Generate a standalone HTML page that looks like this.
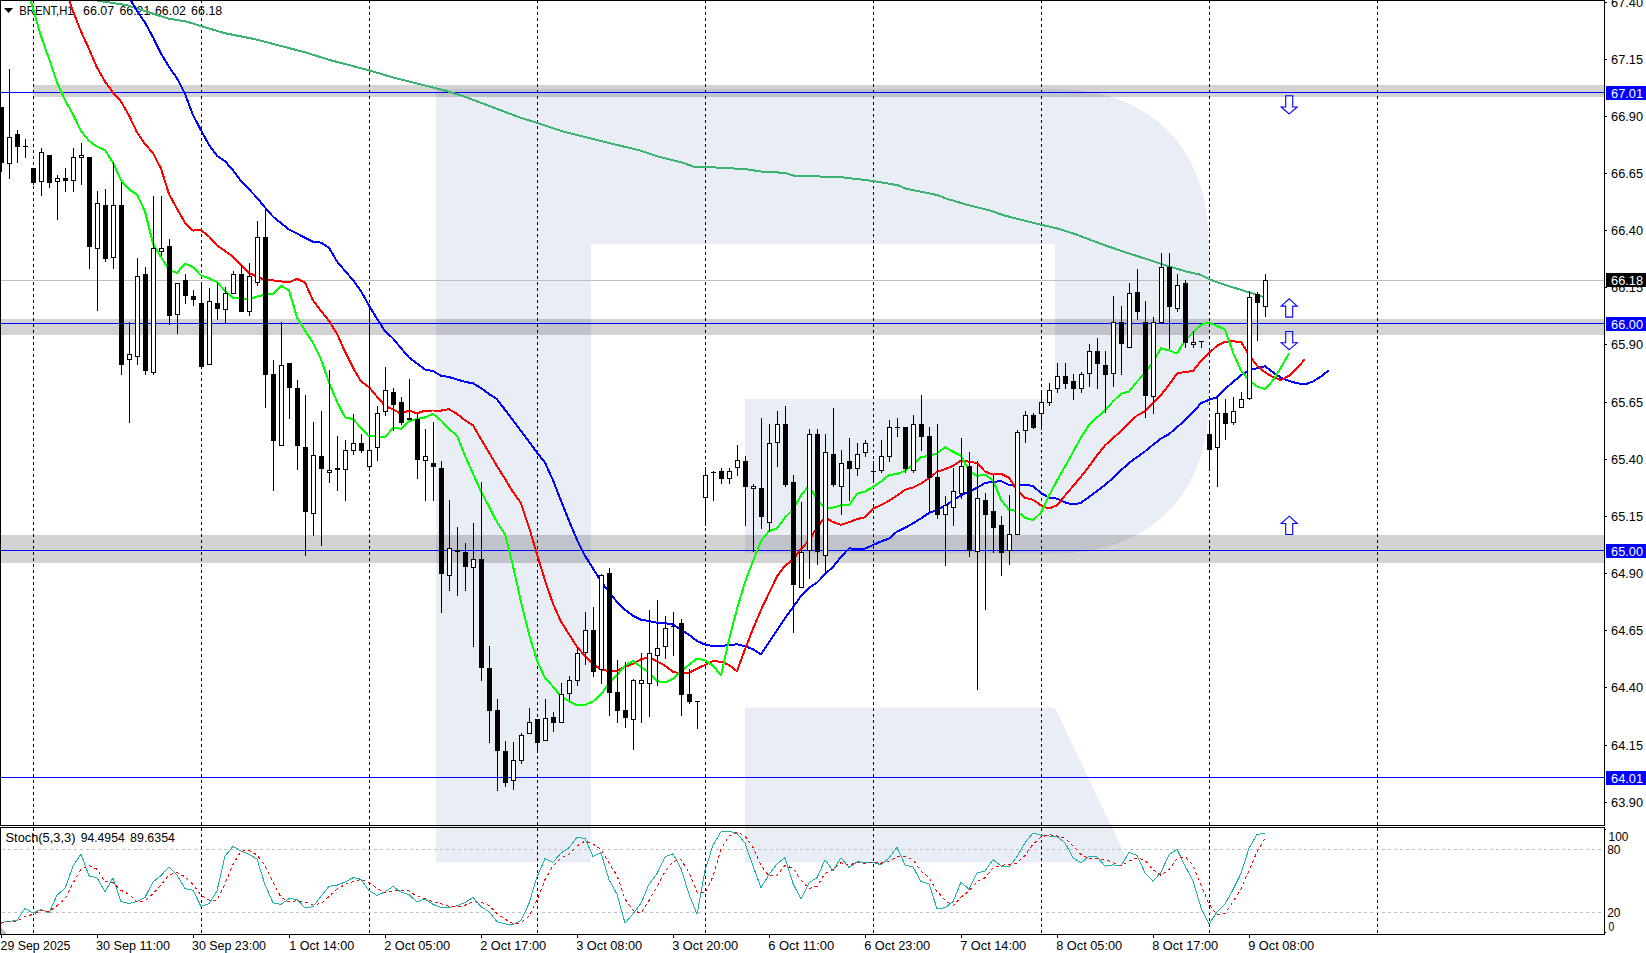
<!DOCTYPE html><html><head><meta charset="utf-8"><style>html,body{margin:0;padding:0;background:#fff;overflow:hidden}svg{display:block}text{font-family:"Liberation Sans",sans-serif}</style></head><body>
<svg width="1646" height="953" viewBox="0 0 1646 953">
<rect x="0" y="0" width="1646" height="953" fill="#fff"/>
<rect x="436" y="89" width="155" height="773.5" fill="#e9edf5"/>
<path d="M591,89 H1055 C1150.5,89 1209,147.9 1209,244 V399 C1209,494.8 1150.5,553.5 1055,553.5 H745 V399 H591 Z M591,244 H1055 V393 Q1055,399 1049,399 H591 Z" fill="#e9edf5" fill-rule="evenodd"/>
<path d="M745,707.5 H1055 L1128.5,862.5 H745 Z" fill="#e9edf5"/>
<path d="M33.5,0 V825 M33.5,828 V934 M201.5,0 V825 M201.5,828 V934 M369.5,0 V825 M369.5,828 V934 M537.5,0 V825 M537.5,828 V934 M705.5,0 V825 M705.5,828 V934 M873.5,0 V825 M873.5,828 V934 M1041.5,0 V825 M1041.5,828 V934 M1209.5,0 V825 M1209.5,828 V934 M1377.5,0 V825 M1377.5,828 V934" stroke="#000" stroke-width="1" stroke-dasharray="3 3" fill="none" shape-rendering="crispEdges"/>
<rect x="33" y="85" width="1571" height="12" fill="rgba(0,0,0,0.173)"/>
<rect x="1" y="319" width="1603" height="16" fill="rgba(0,0,0,0.173)"/>
<rect x="1" y="535" width="1603" height="28" fill="rgba(0,0,0,0.173)"/>
<path d="M2,849.5 H1604 M2,912.5 H1604" stroke="#c0c0c0" stroke-width="1" stroke-dasharray="3 3" fill="none" shape-rendering="crispEdges"/>
<rect x="1" y="280" width="1603" height="1" fill="#c0c0c0"/>
<rect x="1" y="92" width="1603" height="1" fill="#0000ff"/>
<rect x="1" y="323" width="1603" height="1" fill="#0000ff"/>
<rect x="1" y="550" width="1603" height="1" fill="#0000ff"/>
<rect x="1" y="777" width="1603" height="1" fill="#0000ff"/>
<path d="M4,8 H13 L8.5,13 Z" fill="#000"/>
<text x="19.30" y="14.9" font-size="12.5" fill="#000" textLength="54.31" lengthAdjust="spacingAndGlyphs">BRENT,H1</text>
<text x="83.10" y="14.9" font-size="12.5" fill="#000" textLength="31.03" lengthAdjust="spacingAndGlyphs">66.07</text>
<text x="119.50" y="14.9" font-size="12.5" fill="#000" textLength="30.73" lengthAdjust="spacingAndGlyphs">66.21</text>
<text x="155.00" y="14.9" font-size="12.5" fill="#000" textLength="30.83" lengthAdjust="spacingAndGlyphs">66.02</text>
<text x="191.10" y="14.9" font-size="12.5" fill="#000" textLength="31.13" lengthAdjust="spacingAndGlyphs">66.18</text>
<path d="M1.0,-15.0 L100.0,1.0 L126.9,5.2 L168.2,18.6 L186.8,21.7 L224.0,33.0 L255.0,39.2 L306.6,52.7 L329.3,59.9 L368.5,70.2 L393.3,77.5 L440.0,89.2 L462.0,95.7 L520.7,117.8 L537.5,123.0 L562.7,131.4 L596.0,139.8 L640.0,150.5 L657.5,156.4 L681.6,162.3 L693.6,166.7 L712.2,167.3 L745.0,169.1 L762.5,171.7 L784.4,172.8 L794.2,175.7 L841.2,177.2 L874.0,181.1 L898.0,185.3 L905.7,188.6 L937.5,195.1 L946.2,198.6 L968.0,205.0 L990.0,210.5 L1003.6,215.3 L1041.0,224.7 L1058.0,228.6 L1075.0,234.0 L1105.7,245.6 L1129.5,253.6 L1158.4,262.9 L1168.6,266.3 L1187.3,271.8 L1200.9,274.8 L1211.0,280.0 L1228.0,285.9 L1250.2,292.7 L1265.0,297.5" stroke="#3cb371" stroke-width="2" fill="none" stroke-linejoin="round" shape-rendering="crispEdges"/>
<path d="M65.0,-155.4 L73.0,-133.9 L81.0,-112.4 L89.0,-92.3 L97.0,-71.6 L105.0,-52.9 L113.0,-35.6 L121.0,-17.7 L129.0,-2.5 L137.0,10.7 L145.0,22.5 L153.0,37.2 L161.0,53.6 L169.0,66.9 L177.0,78.3 L185.0,93.7 L193.0,115.1 L201.0,130.2 L209.0,144.9 L217.0,155.7 L225.0,161.1 L233.0,170.4 L241.0,181.0 L249.0,189.3 L257.0,197.7 L265.0,207.5 L273.0,216.6 L281.0,223.2 L289.0,229.4 L297.0,233.5 L305.0,237.8 L313.0,241.7 L321.0,242.6 L329.0,247.7 L337.0,261.4 L345.0,270.8 L353.0,280.1 L361.0,291.2 L369.0,305.4 L377.0,318.8 L385.0,331.1 L393.0,338.4 L401.0,348.1 L409.0,357.5 L417.0,363.4 L425.0,369.5 L433.0,371.0 L441.0,375.8 L449.0,377.0 L457.0,379.5 L465.0,381.9 L473.0,383.3 L481.0,388.1 L489.0,394.0 L497.0,399.2 L505.0,409.8 L513.0,420.2 L521.0,431.1 L529.0,441.6 L537.0,452.6 L545.0,462.5 L553.0,480.3 L561.0,500.7 L569.0,520.9 L577.0,539.8 L585.0,555.8 L593.0,568.5 L601.0,581.4 L609.0,592.0 L617.0,602.0 L625.0,609.8 L633.0,615.8 L641.0,619.7 L649.0,621.1 L657.0,622.7 L665.0,623.2 L673.0,624.6 L681.0,629.8 L689.0,634.8 L697.0,641.0 L705.0,644.6 L713.0,646.1 L721.0,645.8 L729.0,645.2 L737.0,644.3 L745.0,646.1 L753.0,649.2 L761.0,654.3 L769.0,642.1 L777.0,630.1 L785.0,618.2 L793.0,607.3 L801.0,596.0 L809.0,587.9 L817.0,582.6 L825.0,574.2 L833.0,566.8 L841.0,556.9 L849.0,548.4 L857.0,548.9 L865.0,548.6 L873.0,545.1 L881.0,541.4 L889.0,538.6 L897.0,531.6 L905.0,527.8 L913.0,523.3 L921.0,518.4 L929.0,513.0 L937.0,509.8 L945.0,505.7 L953.0,500.7 L961.0,495.1 L969.0,491.6 L977.0,487.9 L985.0,482.9 L993.0,481.9 L1001.0,481.1 L1009.0,485.0 L1017.0,485.9 L1025.0,484.5 L1033.0,486.1 L1041.0,493.0 L1049.0,497.5 L1057.0,498.7 L1065.0,502.4 L1073.0,504.5 L1081.0,502.8 L1089.0,497.0 L1097.0,491.1 L1105.0,484.9 L1113.0,478.0 L1121.0,470.3 L1129.0,463.0 L1137.0,457.2 L1145.0,451.4 L1153.0,444.8 L1161.0,438.5 L1169.0,434.2 L1177.0,427.1 L1185.0,420.4 L1193.0,412.3 L1201.0,403.2 L1209.0,399.9 L1217.0,397.3 L1225.0,388.8 L1233.0,382.1 L1241.0,375.2 L1249.0,370.5 L1257.0,368.1 L1265.0,366.3 L1273.0,372.3 L1281.0,377.7 L1289.0,380.9 L1297.0,383.2 L1305.0,384.5 L1313.0,381.5 L1321.0,376.5 L1329.0,370.2" stroke="#0000ff" stroke-width="2" fill="none" stroke-linejoin="round" shape-rendering="crispEdges"/>
<path d="M41.0,-87.6 L49.0,-61.1 L57.0,-35.2 L65.0,-12.2 L73.0,11.3 L81.0,31.5 L89.0,48.9 L97.0,67.5 L105.0,81.5 L113.0,92.6 L121.0,101.5 L129.0,115.5 L137.0,132.4 L145.0,144.0 L153.0,153.0 L161.0,168.6 L169.0,194.1 L177.0,208.8 L185.0,222.8 L193.0,230.6 L201.0,230.0 L209.0,236.5 L217.0,245.5 L225.0,250.9 L233.0,256.8 L241.0,265.4 L249.0,273.0 L257.0,276.6 L265.0,280.1 L273.0,280.4 L281.0,281.4 L289.0,282.4 L297.0,278.8 L305.0,282.5 L313.0,300.4 L321.0,310.9 L329.0,320.9 L337.0,333.9 L345.0,351.6 L353.0,367.6 L361.0,381.5 L369.0,387.1 L377.0,396.7 L385.0,405.9 L393.0,409.5 L401.0,413.7 L409.0,410.5 L417.0,413.4 L425.0,410.6 L433.0,410.5 L441.0,410.6 L449.0,409.2 L457.0,413.9 L465.0,420.2 L473.0,425.3 L481.0,439.2 L489.0,452.5 L497.0,466.2 L505.0,478.8 L513.0,492.1 L521.0,503.2 L529.0,527.1 L537.0,554.3 L545.0,580.5 L553.0,603.7 L561.0,621.8 L569.0,634.1 L577.0,646.9 L585.0,656.0 L593.0,664.2 L601.0,669.1 L609.0,671.4 L617.0,670.8 L625.0,666.8 L633.0,663.7 L641.0,659.3 L649.0,657.1 L657.0,661.4 L665.0,665.7 L673.0,671.8 L681.0,673.8 L689.0,672.6 L697.0,668.8 L705.0,664.9 L713.0,661.0 L721.0,661.8 L729.0,664.9 L737.0,671.2 L745.0,649.3 L753.0,628.9 L761.0,609.8 L769.0,593.1 L777.0,576.5 L785.0,565.8 L793.0,559.9 L801.0,549.0 L809.0,540.2 L817.0,527.5 L825.0,517.4 L833.0,522.0 L841.0,524.8 L849.0,522.2 L857.0,519.1 L865.0,517.2 L873.0,508.5 L881.0,505.2 L889.0,500.8 L897.0,495.6 L905.0,489.7 L913.0,487.4 L921.0,483.5 L929.0,478.2 L937.0,471.8 L945.0,469.1 L953.0,465.9 L961.0,460.5 L969.0,461.7 L977.0,463.0 L985.0,471.5 L993.0,474.6 L1001.0,473.9 L1009.0,477.7 L1017.0,490.0 L1025.0,497.7 L1033.0,499.7 L1041.0,505.5 L1049.0,508.5 L1057.0,505.3 L1065.0,495.5 L1073.0,486.2 L1081.0,476.7 L1089.0,466.4 L1097.0,455.4 L1105.0,445.4 L1113.0,438.1 L1121.0,431.1 L1129.0,422.9 L1137.0,415.5 L1145.0,411.3 L1153.0,402.6 L1161.0,394.8 L1169.0,384.9 L1177.0,373.6 L1185.0,371.9 L1193.0,371.1 L1201.0,360.7 L1209.0,353.2 L1217.0,345.7 L1225.0,341.7 L1233.0,341.4 L1241.0,341.8 L1249.0,354.7 L1257.0,365.6 L1265.0,372.3 L1273.0,377.2 L1281.0,380.0 L1289.0,375.7 L1297.0,368.2 L1305.0,359.1" stroke="#ff0000" stroke-width="2" fill="none" stroke-linejoin="round" shape-rendering="crispEdges"/>
<path d="M25.0,-20.1 L33.0,8.7 L41.0,36.2 L49.0,58.7 L57.0,82.2 L65.0,100.2 L73.0,114.4 L81.0,131.0 L89.0,140.8 L97.0,146.6 L105.0,150.1 L113.0,162.7 L121.0,180.3 L129.0,189.4 L137.0,194.6 L145.0,211.4 L153.0,243.6 L161.0,257.1 L169.0,269.9 L177.0,273.0 L185.0,263.5 L193.0,267.2 L201.0,275.5 L209.0,278.2 L217.0,282.1 L225.0,290.8 L233.0,297.9 L241.0,298.6 L249.0,299.8 L257.0,296.4 L265.0,294.8 L273.0,293.7 L281.0,285.7 L289.0,290.3 L297.0,317.4 L305.0,330.7 L313.0,342.8 L321.0,359.2 L329.0,382.5 L337.0,401.8 L345.0,417.2 L353.0,419.1 L361.0,428.0 L369.0,436.5 L377.0,436.1 L385.0,437.5 L393.0,427.6 L401.0,428.8 L409.0,421.3 L417.0,418.9 L425.0,417.4 L433.0,413.8 L441.0,420.4 L449.0,429.2 L457.0,435.6 L465.0,455.8 L473.0,473.8 L481.0,491.4 L489.0,506.5 L497.0,522.2 L505.0,534.0 L513.0,566.1 L521.0,601.9 L529.0,634.2 L537.0,660.5 L545.0,678.1 L553.0,686.6 L561.0,696.5 L569.0,701.2 L577.0,705.3 L585.0,704.9 L593.0,701.4 L601.0,694.5 L609.0,683.3 L617.0,675.0 L625.0,665.7 L633.0,661.0 L641.0,667.1 L649.0,672.7 L657.0,681.1 L665.0,682.5 L673.0,678.8 L681.0,671.6 L689.0,664.7 L697.0,658.6 L705.0,660.4 L713.0,665.6 L721.0,675.5 L729.0,639.7 L737.0,608.9 L745.0,582.3 L753.0,561.1 L761.0,541.0 L769.0,531.0 L777.0,528.5 L785.0,517.4 L793.0,509.5 L801.0,495.4 L809.0,485.6 L817.0,499.3 L825.0,508.4 L833.0,507.5 L841.0,505.4 L849.0,505.2 L857.0,493.7 L865.0,491.4 L873.0,487.0 L881.0,481.5 L889.0,474.8 L897.0,474.2 L905.0,470.6 L913.0,464.7 L921.0,457.2 L929.0,455.7 L937.0,453.4 L945.0,447.2 L953.0,451.8 L961.0,455.8 L969.0,470.8 L977.0,476.0 L985.0,474.5 L993.0,480.5 L1001.0,499.6 L1009.0,510.0 L1017.0,510.8 L1025.0,517.8 L1033.0,520.2 L1041.0,512.7 L1049.0,495.6 L1057.0,480.7 L1065.0,466.5 L1073.0,452.2 L1081.0,437.3 L1089.0,425.0 L1097.0,417.4 L1105.0,410.4 L1113.0,401.4 L1121.0,393.8 L1129.0,391.5 L1137.0,381.5 L1145.0,373.3 L1153.0,361.7 L1161.0,348.2 L1169.0,350.5 L1177.0,353.5 L1185.0,340.4 L1193.0,332.5 L1201.0,324.7 L1209.0,322.5 L1217.0,325.9 L1225.0,329.5 L1233.0,352.6 L1241.0,370.5 L1249.0,380.3 L1257.0,386.4 L1265.0,389.1 L1273.0,380.3 L1281.0,367.5 L1289.0,353.1" stroke="#00ff00" stroke-width="2" fill="none" stroke-linejoin="round" shape-rendering="crispEdges"/>
<path d="M1,107h1V172h-1ZM-1,107h5V163h-5ZM9,69h1V179h-1ZM7,137h5V164h-5ZM17,130h1V163h-1ZM15,134h5V147h-5ZM25,139h1V158h-1ZM23,146h5v1h-5ZM33,168h1V185h-1ZM31,168h5V183h-5ZM41,148h1V196h-1ZM39,152h5V182h-5ZM49,155h1V188h-1ZM47,155h5V183h-5ZM57,175h1V220h-1ZM55,178h5V182h-5ZM65,168h1V192h-1ZM63,178h5V181h-5ZM73,148h1V192h-1ZM71,157h5V181h-5ZM81,143h1V185h-1ZM79,155h5V158h-5ZM89,157h1V269h-1ZM87,157h5V247h-5ZM97,191h1V311h-1ZM95,203h5V249h-5ZM105,189h1V262h-1ZM103,205h5V259h-5ZM113,162h1V269h-1ZM111,205h5V258h-5ZM121,182h1V375h-1ZM119,205h5V365h-5ZM129,322h1V423h-1ZM127,354h5V360h-5ZM137,258h1V365h-1ZM135,276h5V357h-5ZM145,267h1V375h-1ZM143,274h5V371h-5ZM153,196h1V375h-1ZM151,248h5V373h-5ZM161,196h1V256h-1ZM159,248h5V252h-5ZM169,239h1V325h-1ZM167,246h5V316h-5ZM177,283h1V334h-1ZM175,283h5V315h-5ZM185,274h1V304h-1ZM183,280h5V296h-5ZM193,290h1V306h-1ZM191,296h5V300h-5ZM201,283h1V368h-1ZM199,303h5V367h-5ZM209,288h1V365h-1ZM207,301h5V365h-5ZM217,283h1V320h-1ZM215,303h5V309h-5ZM225,287h1V323h-1ZM223,293h5V310h-5ZM233,271h1V294h-1ZM231,274h5V294h-5ZM241,265h1V312h-1ZM239,274h5V312h-5ZM249,263h1V316h-1ZM247,276h5V312h-5ZM257,221h1V286h-1ZM255,237h5V283h-5ZM265,209h1V408h-1ZM263,237h5V375h-5ZM273,360h1V491h-1ZM271,374h5V441h-5ZM281,322h1V446h-1ZM279,365h5V446h-5ZM289,363h1V419h-1ZM287,363h5V388h-5ZM297,380h1V470h-1ZM295,388h5V446h-5ZM305,395h1V556h-1ZM303,447h5V512h-5ZM313,422h1V536h-1ZM311,455h5V514h-5ZM321,411h1V546h-1ZM319,456h5V469h-5ZM329,370h1V483h-1ZM327,470h5V473h-5ZM337,436h1V491h-1ZM335,468h5V470h-5ZM345,440h1V501h-1ZM343,450h5V470h-5ZM353,414h1V455h-1ZM351,443h5V451h-5ZM361,434h1V453h-1ZM359,443h5V451h-5ZM369,306h1V470h-1ZM367,450h5V467h-5ZM377,406h1V461h-1ZM375,413h5V448h-5ZM385,367h1V416h-1ZM383,390h5V412h-5ZM393,388h1V431h-1ZM391,392h5V405h-5ZM401,397h1V425h-1ZM399,402h5V423h-5ZM409,379h1V420h-1ZM407,418h5V420h-5ZM417,414h1V479h-1ZM415,419h5V460h-5ZM425,429h1V501h-1ZM423,456h5V461h-5ZM433,422h1V501h-1ZM431,463h5V467h-5ZM441,461h1V613h-1ZM439,468h5V574h-5ZM449,500h1V591h-1ZM447,548h5V576h-5ZM457,527h1V596h-1ZM455,550h5V552h-5ZM465,543h1V591h-1ZM463,552h5V567h-5ZM473,523h1V647h-1ZM471,559h5V568h-5ZM481,482h1V681h-1ZM479,559h5V668h-5ZM489,646h1V743h-1ZM487,668h5V711h-5ZM497,699h1V791h-1ZM495,710h5V751h-5ZM505,741h1V787h-1ZM503,751h5V783h-5ZM513,742h1V790h-1ZM511,760h5V781h-5ZM521,733h1V764h-1ZM519,735h5V761h-5ZM529,708h1V734h-1ZM527,722h5V734h-5ZM537,719h1V753h-1ZM535,719h5V743h-5ZM545,699h1V741h-1ZM543,718h5V741h-5ZM553,712h1V732h-1ZM551,717h5V723h-5ZM561,683h1V723h-1ZM559,694h5V723h-5ZM569,676h1V700h-1ZM567,680h5V694h-5ZM577,648h1V686h-1ZM575,653h5V681h-5ZM585,612h1V665h-1ZM583,630h5V653h-5ZM593,607h1V677h-1ZM591,630h5V672h-5ZM601,574h1V684h-1ZM599,575h5V670h-5ZM609,568h1V716h-1ZM607,573h5V693h-5ZM617,660h1V723h-1ZM615,692h5V711h-5ZM625,662h1V728h-1ZM623,710h5V718h-5ZM633,679h1V750h-1ZM631,680h5V720h-5ZM641,653h1V723h-1ZM639,680h5V684h-5ZM649,610h1V717h-1ZM647,653h5V684h-5ZM657,600h1V686h-1ZM655,648h5V656h-5ZM665,616h1V659h-1ZM663,628h5V647h-5ZM673,612h1V656h-1ZM671,626h5v1h-5ZM681,619h1V716h-1ZM679,623h5V695h-5ZM689,669h1V704h-1ZM687,694h5V702h-5ZM697,701h1V729h-1ZM695,701h5v1h-5ZM705,467h1V526h-1ZM703,475h5V498h-5ZM713,471h1V501h-1ZM711,472h5v1h-5ZM721,468h1V484h-1ZM719,471h5V479h-5ZM729,468h1V484h-1ZM727,471h5V479h-5ZM737,445h1V476h-1ZM735,460h5V468h-5ZM745,456h1V526h-1ZM743,461h5V487h-5ZM753,484h1V552h-1ZM751,486h5V489h-5ZM761,418h1V529h-1ZM759,488h5V517h-5ZM769,424h1V532h-1ZM767,443h5V523h-5ZM777,411h1V467h-1ZM775,424h5V443h-5ZM785,406h1V487h-1ZM783,424h5V485h-5ZM793,475h1V633h-1ZM791,482h5V585h-5ZM801,502h1V588h-1ZM799,552h5V588h-5ZM809,429h1V579h-1ZM807,434h5V551h-5ZM817,429h1V565h-1ZM815,434h5V552h-5ZM825,434h1V575h-1ZM823,452h5V556h-5ZM833,408h1V487h-1ZM831,454h5V485h-5ZM841,450h1V515h-1ZM839,463h5V487h-5ZM849,438h1V501h-1ZM847,461h5V469h-5ZM857,443h1V476h-1ZM855,454h5V469h-5ZM865,440h1V457h-1ZM863,443h5V453h-5ZM873,461h1V483h-1ZM871,471h5v1h-5ZM881,440h1V473h-1ZM879,456h5V471h-5ZM889,420h1V462h-1ZM887,427h5V457h-5ZM897,418h1V437h-1ZM895,427h5v1h-5ZM905,427h1V473h-1ZM903,427h5V469h-5ZM913,415h1V473h-1ZM911,424h5V471h-5ZM921,395h1V451h-1ZM919,424h5V437h-5ZM929,427h1V513h-1ZM927,436h5V478h-5ZM937,424h1V519h-1ZM935,477h5V515h-5ZM945,496h1V566h-1ZM943,505h5V515h-5ZM953,468h1V526h-1ZM951,491h5V508h-5ZM961,438h1V499h-1ZM959,466h5V494h-5ZM969,452h1V557h-1ZM967,466h5V551h-5ZM977,461h1V690h-1ZM975,498h5V552h-5ZM985,493h1V610h-1ZM983,500h5V515h-5ZM993,475h1V553h-1ZM991,511h5V528h-5ZM1001,516h1V576h-1ZM999,525h5V553h-5ZM1009,495h1V565h-1ZM1007,534h5V551h-5ZM1017,430h1V535h-1ZM1015,432h5V535h-5ZM1025,411h1V443h-1ZM1023,415h5V431h-5ZM1033,413h1V429h-1ZM1031,415h5V428h-5ZM1041,390h1V430h-1ZM1039,402h5V414h-5ZM1049,383h1V406h-1ZM1047,390h5V403h-5ZM1057,363h1V393h-1ZM1055,376h5V389h-5ZM1065,363h1V389h-1ZM1063,376h5V384h-5ZM1073,374h1V400h-1ZM1071,381h5V389h-5ZM1081,372h1V393h-1ZM1079,374h5V389h-5ZM1089,344h1V387h-1ZM1087,351h5V374h-5ZM1097,338h1V389h-1ZM1095,351h5V364h-5ZM1105,351h1V413h-1ZM1103,365h5V375h-5ZM1113,296h1V387h-1ZM1111,322h5V374h-5ZM1121,306h1V375h-1ZM1119,322h5V344h-5ZM1129,283h1V348h-1ZM1127,293h5V348h-5ZM1137,269h1V320h-1ZM1135,292h5V312h-5ZM1145,301h1V418h-1ZM1143,322h5V396h-5ZM1153,317h1V414h-1ZM1151,322h5V397h-5ZM1161,253h1V323h-1ZM1159,267h5V323h-5ZM1169,253h1V349h-1ZM1167,267h5V307h-5ZM1177,274h1V312h-1ZM1175,285h5V309h-5ZM1185,280h1V348h-1ZM1183,283h5V343h-5ZM1193,331h1V348h-1ZM1191,342h5V345h-5ZM1201,341h1V348h-1ZM1199,341h5v1h-5ZM1209,421h1V469h-1ZM1207,434h5V450h-5ZM1217,397h1V487h-1ZM1215,413h5V448h-5ZM1225,399h1V440h-1ZM1223,413h5V424h-5ZM1233,397h1V425h-1ZM1231,411h5V423h-5ZM1241,392h1V408h-1ZM1239,399h5V408h-5ZM1249,291h1V400h-1ZM1247,297h5V399h-5ZM1257,292h1V341h-1ZM1255,294h5V303h-5ZM1265,274h1V317h-1ZM1263,280h5V307h-5Z" fill="#000" shape-rendering="crispEdges"/>
<path d="M8,138h3V163h-3ZM40,153h3V181h-3ZM56,179h3V181h-3ZM72,158h3V180h-3ZM80,156h3V157h-3ZM96,204h3V248h-3ZM112,206h3V257h-3ZM128,355h3V359h-3ZM136,277h3V356h-3ZM152,249h3V372h-3ZM160,249h3V251h-3ZM176,284h3V314h-3ZM208,302h3V364h-3ZM224,294h3V309h-3ZM232,275h3V293h-3ZM248,277h3V311h-3ZM256,238h3V282h-3ZM280,366h3V445h-3ZM312,456h3V513h-3ZM328,471h3V472h-3ZM344,451h3V469h-3ZM352,444h3V450h-3ZM368,451h3V466h-3ZM376,414h3V447h-3ZM384,391h3V411h-3ZM424,457h3V460h-3ZM448,549h3V575h-3ZM472,560h3V567h-3ZM512,761h3V780h-3ZM520,736h3V760h-3ZM528,723h3V733h-3ZM544,719h3V740h-3ZM560,695h3V722h-3ZM568,681h3V693h-3ZM576,654h3V680h-3ZM584,631h3V652h-3ZM600,576h3V669h-3ZM632,681h3V719h-3ZM640,681h3V683h-3ZM648,654h3V683h-3ZM656,649h3V655h-3ZM664,629h3V646h-3ZM704,476h3V497h-3ZM728,472h3V478h-3ZM736,461h3V467h-3ZM752,487h3V488h-3ZM768,444h3V522h-3ZM776,425h3V442h-3ZM800,553h3V587h-3ZM808,435h3V550h-3ZM824,453h3V555h-3ZM840,464h3V486h-3ZM856,455h3V468h-3ZM864,444h3V452h-3ZM880,457h3V470h-3ZM888,428h3V456h-3ZM912,425h3V470h-3ZM944,506h3V514h-3ZM952,492h3V507h-3ZM960,467h3V493h-3ZM976,499h3V551h-3ZM1008,535h3V550h-3ZM1016,433h3V534h-3ZM1024,416h3V430h-3ZM1040,403h3V413h-3ZM1048,391h3V402h-3ZM1056,377h3V388h-3ZM1080,375h3V388h-3ZM1088,352h3V373h-3ZM1112,323h3V373h-3ZM1128,294h3V347h-3ZM1152,323h3V396h-3ZM1160,268h3V322h-3ZM1176,286h3V308h-3ZM1192,343h3V344h-3ZM1216,414h3V447h-3ZM1232,412h3V422h-3ZM1240,400h3V407h-3ZM1248,298h3V398h-3ZM1264,281h3V306h-3Z" fill="#fff" shape-rendering="crispEdges"/>
<path d="M1289.20,113.90 L1297.20,107.00 L1292.70,107.00 L1292.70,95.70 L1285.70,95.70 L1285.70,107.00 L1281.20,107.00Z" fill="none" stroke="#0000ff" stroke-width="1.1"/>
<path d="M1289.20,298.80 L1297.20,306.10 L1292.70,306.10 L1292.70,317.10 L1285.70,317.10 L1285.70,306.10 L1281.20,306.10Z" fill="none" stroke="#0000ff" stroke-width="1.1"/>
<path d="M1289.20,349.70 L1297.20,342.80 L1292.70,342.80 L1292.70,331.50 L1285.70,331.50 L1285.70,342.80 L1281.20,342.80Z" fill="none" stroke="#0000ff" stroke-width="1.1"/>
<path d="M1289.20,516.20 L1297.20,523.50 L1292.70,523.50 L1292.70,534.50 L1285.70,534.50 L1285.70,523.50 L1281.20,523.50Z" fill="none" stroke="#0000ff" stroke-width="1.1"/>
<path d="M1.0,922.4 L9.0,921.3 L17.0,920.4 L25.0,908.3 L33.0,913.2 L41.0,909.4 L49.0,912.9 L57.0,895.2 L65.0,888.3 L73.0,866.3 L81.0,853.9 L89.0,875.9 L97.0,877.8 L105.0,891.7 L113.0,877.8 L121.0,901.6 L129.0,903.4 L137.0,901.4 L145.0,897.5 L153.0,881.9 L161.0,875.5 L169.0,867.0 L177.0,875.0 L185.0,888.5 L193.0,890.2 L201.0,906.5 L209.0,903.7 L217.0,891.0 L225.0,855.9 L233.0,846.5 L241.0,851.0 L249.0,854.4 L257.0,859.1 L265.0,884.9 L273.0,902.7 L281.0,904.4 L289.0,898.7 L297.0,899.3 L305.0,908.0 L313.0,906.6 L321.0,896.3 L329.0,886.2 L337.0,885.2 L345.0,882.0 L353.0,877.7 L361.0,879.1 L369.0,890.6 L377.0,895.4 L385.0,891.9 L393.0,886.5 L401.0,892.1 L409.0,894.5 L417.0,902.1 L425.0,899.0 L433.0,904.4 L441.0,907.5 L449.0,907.4 L457.0,905.8 L465.0,902.5 L473.0,897.5 L481.0,906.6 L489.0,911.8 L497.0,921.8 L505.0,923.9 L513.0,924.5 L521.0,920.4 L529.0,903.5 L537.0,876.8 L545.0,858.6 L553.0,862.3 L561.0,853.1 L569.0,847.6 L577.0,837.3 L585.0,838.4 L593.0,856.5 L601.0,852.8 L609.0,879.7 L617.0,894.2 L625.0,923.0 L633.0,913.9 L641.0,903.3 L649.0,884.0 L657.0,873.6 L665.0,856.8 L673.0,853.8 L681.0,868.5 L689.0,894.2 L697.0,914.2 L705.0,870.6 L713.0,845.1 L721.0,831.7 L729.0,831.1 L737.0,833.5 L745.0,843.1 L753.0,866.1 L761.0,887.5 L769.0,874.6 L777.0,863.8 L785.0,857.7 L793.0,883.6 L801.0,899.0 L809.0,882.7 L817.0,877.7 L825.0,859.8 L833.0,870.7 L841.0,857.7 L849.0,867.4 L857.0,861.9 L865.0,862.1 L873.0,862.4 L881.0,864.7 L889.0,858.0 L897.0,847.2 L905.0,864.9 L913.0,867.0 L921.0,881.5 L929.0,883.9 L937.0,908.7 L945.0,907.8 L953.0,901.7 L961.0,882.1 L969.0,889.4 L977.0,873.0 L985.0,871.0 L993.0,859.7 L1001.0,866.0 L1009.0,866.8 L1017.0,856.7 L1025.0,842.7 L1033.0,833.0 L1041.0,835.2 L1049.0,836.0 L1057.0,836.6 L1065.0,842.7 L1073.0,857.8 L1081.0,862.8 L1089.0,856.3 L1097.0,856.9 L1105.0,866.1 L1113.0,864.9 L1121.0,866.0 L1129.0,852.4 L1137.0,855.4 L1145.0,872.8 L1153.0,881.3 L1161.0,872.2 L1169.0,854.7 L1177.0,849.4 L1185.0,865.8 L1193.0,880.9 L1201.0,907.7 L1209.0,924.2 L1217.0,912.1 L1225.0,904.1 L1233.0,889.6 L1241.0,873.4 L1249.0,848.2 L1257.0,834.3 L1265.0,833.5" stroke="#20b2aa" stroke-width="1" fill="none" shape-rendering="crispEdges"/>
<path d="M1.0,923.3 L9.0,921.5 L17.0,921.4 L25.0,916.4 L33.0,914.4 L41.0,910.6 L49.0,911.8 L57.0,905.7 L65.0,898.8 L73.0,883.3 L81.0,869.5 L89.0,865.4 L97.0,869.2 L105.0,881.8 L113.0,882.4 L121.0,890.3 L129.0,894.3 L137.0,902.1 L145.0,900.8 L153.0,893.6 L161.0,885.0 L169.0,874.8 L177.0,872.5 L185.0,876.9 L193.0,884.6 L201.0,895.1 L209.0,900.1 L217.0,900.4 L225.0,883.6 L233.0,864.5 L241.0,851.1 L249.0,850.6 L257.0,854.8 L265.0,866.1 L273.0,882.2 L281.0,897.4 L289.0,901.9 L297.0,900.8 L305.0,902.0 L313.0,904.6 L321.0,903.6 L329.0,896.4 L337.0,889.2 L345.0,884.5 L353.0,881.6 L361.0,879.6 L369.0,882.5 L377.0,888.4 L385.0,892.6 L393.0,891.2 L401.0,890.2 L409.0,891.0 L417.0,896.2 L425.0,898.5 L433.0,901.8 L441.0,903.6 L449.0,906.4 L457.0,906.9 L465.0,905.2 L473.0,901.9 L481.0,902.2 L489.0,905.3 L497.0,913.4 L505.0,919.2 L513.0,923.4 L521.0,922.9 L529.0,916.1 L537.0,900.2 L545.0,879.6 L553.0,865.9 L561.0,858.0 L569.0,854.3 L577.0,846.0 L585.0,841.1 L593.0,844.0 L601.0,849.2 L609.0,863.0 L617.0,875.5 L625.0,899.0 L633.0,910.3 L641.0,913.4 L649.0,900.4 L657.0,887.0 L665.0,871.5 L673.0,861.4 L681.0,859.7 L689.0,872.2 L697.0,892.3 L705.0,893.0 L713.0,876.6 L721.0,849.1 L729.0,836.0 L737.0,832.1 L745.0,835.9 L753.0,847.6 L761.0,865.6 L769.0,876.1 L777.0,875.3 L785.0,865.3 L793.0,868.3 L801.0,880.1 L809.0,888.4 L817.0,886.4 L825.0,873.4 L833.0,869.4 L841.0,862.7 L849.0,865.3 L857.0,862.3 L865.0,863.8 L873.0,862.1 L881.0,863.1 L889.0,861.7 L897.0,856.6 L905.0,856.7 L913.0,859.7 L921.0,871.1 L929.0,877.5 L937.0,891.4 L945.0,900.1 L953.0,906.1 L961.0,897.2 L969.0,891.1 L977.0,881.5 L985.0,877.8 L993.0,867.9 L1001.0,865.6 L1009.0,864.2 L1017.0,863.2 L1025.0,855.4 L1033.0,844.1 L1041.0,837.0 L1049.0,834.7 L1057.0,835.9 L1065.0,838.4 L1073.0,845.7 L1081.0,854.4 L1089.0,858.9 L1097.0,858.6 L1105.0,859.7 L1113.0,862.6 L1121.0,865.7 L1129.0,861.1 L1137.0,857.9 L1145.0,860.2 L1153.0,869.8 L1161.0,875.4 L1169.0,869.4 L1177.0,858.7 L1185.0,856.6 L1193.0,865.3 L1201.0,884.8 L1209.0,904.3 L1217.0,914.7 L1225.0,913.5 L1233.0,901.9 L1241.0,889.0 L1249.0,870.4 L1257.0,852.0 L1265.0,838.7" stroke="#ff0000" stroke-width="1" stroke-dasharray="3 3" fill="none" shape-rendering="crispEdges"/>
<path d="M0.5,0.5 H1604.5 V825.5 H0.5 Z M0.5,827.5 H1604.5 V934.5 H0.5 Z" stroke="#000" stroke-width="1" fill="none" shape-rendering="crispEdges"/>
<path d="M1,927 L7,934 H1 Z" fill="#c0c0c0"/>
<text x="1611.10" y="7" font-size="12.5" fill="#000" textLength="31.95" lengthAdjust="spacingAndGlyphs">67.40</text>
<text x="1611.10" y="64" font-size="12.5" fill="#000" textLength="31.95" lengthAdjust="spacingAndGlyphs">67.15</text>
<text x="1611.10" y="121" font-size="12.5" fill="#000" textLength="31.95" lengthAdjust="spacingAndGlyphs">66.90</text>
<text x="1611.10" y="178" font-size="12.5" fill="#000" textLength="31.95" lengthAdjust="spacingAndGlyphs">66.65</text>
<text x="1611.10" y="235" font-size="12.5" fill="#000" textLength="31.95" lengthAdjust="spacingAndGlyphs">66.40</text>
<text x="1611.10" y="292" font-size="12.5" fill="#000" textLength="31.95" lengthAdjust="spacingAndGlyphs">66.15</text>
<text x="1611.10" y="349" font-size="12.5" fill="#000" textLength="31.95" lengthAdjust="spacingAndGlyphs">65.90</text>
<text x="1611.10" y="407" font-size="12.5" fill="#000" textLength="31.95" lengthAdjust="spacingAndGlyphs">65.65</text>
<text x="1611.10" y="464" font-size="12.5" fill="#000" textLength="31.95" lengthAdjust="spacingAndGlyphs">65.40</text>
<text x="1611.10" y="521" font-size="12.5" fill="#000" textLength="31.95" lengthAdjust="spacingAndGlyphs">65.15</text>
<text x="1611.10" y="578" font-size="12.5" fill="#000" textLength="31.95" lengthAdjust="spacingAndGlyphs">64.90</text>
<text x="1611.10" y="635" font-size="12.5" fill="#000" textLength="31.95" lengthAdjust="spacingAndGlyphs">64.65</text>
<text x="1611.10" y="692" font-size="12.5" fill="#000" textLength="31.95" lengthAdjust="spacingAndGlyphs">64.40</text>
<text x="1611.10" y="750" font-size="12.5" fill="#000" textLength="31.95" lengthAdjust="spacingAndGlyphs">64.15</text>
<text x="1611.10" y="807" font-size="12.5" fill="#000" textLength="31.95" lengthAdjust="spacingAndGlyphs">63.90</text>
<path d="M1605,2.5h2 M1605,59.5h2 M1605,116.5h2 M1605,173.5h2 M1605,230.5h2 M1605,287.5h2 M1605,344.5h2 M1605,402.5h2 M1605,459.5h2 M1605,516.5h2 M1605,573.5h2 M1605,630.5h2 M1605,687.5h2 M1605,745.5h2 M1605,802.5h2" stroke="#000" stroke-width="1" shape-rendering="crispEdges"/>
<rect x="1606" y="86" width="40" height="14" fill="#0000ff"/>
<text x="1611.10" y="98" font-size="12.5" fill="#fff" textLength="31.95" lengthAdjust="spacingAndGlyphs">67.01</text>
<rect x="1606" y="273" width="40" height="14" fill="#000"/>
<text x="1611.10" y="285" font-size="12.5" fill="#fff" textLength="31.95" lengthAdjust="spacingAndGlyphs">66.18</text>
<rect x="1606" y="317" width="40" height="14" fill="#0000ff"/>
<text x="1611.10" y="329" font-size="12.5" fill="#fff" textLength="31.95" lengthAdjust="spacingAndGlyphs">66.00</text>
<rect x="1606" y="544" width="40" height="14" fill="#0000ff"/>
<text x="1611.10" y="556" font-size="12.5" fill="#fff" textLength="31.95" lengthAdjust="spacingAndGlyphs">65.00</text>
<rect x="1606" y="771" width="40" height="14" fill="#0000ff"/>
<text x="1611.10" y="783" font-size="12.5" fill="#fff" textLength="31.95" lengthAdjust="spacingAndGlyphs">64.01</text>
<text x="1608.60" y="841.3" font-size="12.5" fill="#000" textLength="19.72" lengthAdjust="spacingAndGlyphs">100</text>
<text x="1607.20" y="854.2" font-size="12.5" fill="#000" textLength="13.35" lengthAdjust="spacingAndGlyphs">80</text>
<text x="1607.20" y="916.8" font-size="12.5" fill="#000" textLength="13.35" lengthAdjust="spacingAndGlyphs">20</text>
<text x="1608.60" y="931.3" font-size="12.5" fill="#000" textLength="5.78" lengthAdjust="spacingAndGlyphs">0</text>
<path d="M1605,829.5h1 M1605,932.5h1" stroke="#000" stroke-width="1" shape-rendering="crispEdges"/>
<text x="0.60" y="949.8" font-size="12.5" fill="#000" textLength="69.86" lengthAdjust="spacingAndGlyphs">29 Sep 2025</text>
<text x="96.00" y="949.8" font-size="12.5" fill="#000" textLength="74.00" lengthAdjust="spacingAndGlyphs">30 Sep 11:00</text>
<text x="192.00" y="949.8" font-size="12.5" fill="#000" textLength="74.00" lengthAdjust="spacingAndGlyphs">30 Sep 23:00</text>
<text x="289.20" y="949.8" font-size="12.5" fill="#000" textLength="64.94" lengthAdjust="spacingAndGlyphs">1 Oct 14:00</text>
<text x="384.20" y="949.8" font-size="12.5" fill="#000" textLength="66.04" lengthAdjust="spacingAndGlyphs">2 Oct 05:00</text>
<text x="480.20" y="949.8" font-size="12.5" fill="#000" textLength="66.04" lengthAdjust="spacingAndGlyphs">2 Oct 17:00</text>
<text x="576.20" y="949.8" font-size="12.5" fill="#000" textLength="66.04" lengthAdjust="spacingAndGlyphs">3 Oct 08:00</text>
<text x="672.20" y="949.8" font-size="12.5" fill="#000" textLength="66.04" lengthAdjust="spacingAndGlyphs">3 Oct 20:00</text>
<text x="768.20" y="949.8" font-size="12.5" fill="#000" textLength="66.05" lengthAdjust="spacingAndGlyphs">6 Oct 11:00</text>
<text x="864.20" y="949.8" font-size="12.5" fill="#000" textLength="66.04" lengthAdjust="spacingAndGlyphs">6 Oct 23:00</text>
<text x="960.20" y="949.8" font-size="12.5" fill="#000" textLength="66.04" lengthAdjust="spacingAndGlyphs">7 Oct 14:00</text>
<text x="1056.20" y="949.8" font-size="12.5" fill="#000" textLength="66.04" lengthAdjust="spacingAndGlyphs">8 Oct 05:00</text>
<text x="1152.20" y="949.8" font-size="12.5" fill="#000" textLength="66.04" lengthAdjust="spacingAndGlyphs">8 Oct 17:00</text>
<text x="1248.20" y="949.8" font-size="12.5" fill="#000" textLength="66.04" lengthAdjust="spacingAndGlyphs">9 Oct 08:00</text>
<path d="M1.5,935v3 M97.5,935v3 M193.5,935v3 M289.5,935v3 M385.5,935v3 M481.5,935v3 M577.5,935v3 M673.5,935v3 M769.5,935v3 M865.5,935v3 M961.5,935v3 M1057.5,935v3 M1153.5,935v3 M1249.5,935v3" stroke="#000" stroke-width="1" shape-rendering="crispEdges"/>
<text x="5.50" y="842.4" font-size="12.5" fill="#000" textLength="69.97" lengthAdjust="spacingAndGlyphs">Stoch(5,3,3)</text>
<text x="80.70" y="842.4" font-size="12.5" fill="#000" textLength="43.97" lengthAdjust="spacingAndGlyphs">94.4954</text>
<text x="130.10" y="842.4" font-size="12.5" fill="#000" textLength="44.87" lengthAdjust="spacingAndGlyphs">89.6354</text>
</svg></body></html>
